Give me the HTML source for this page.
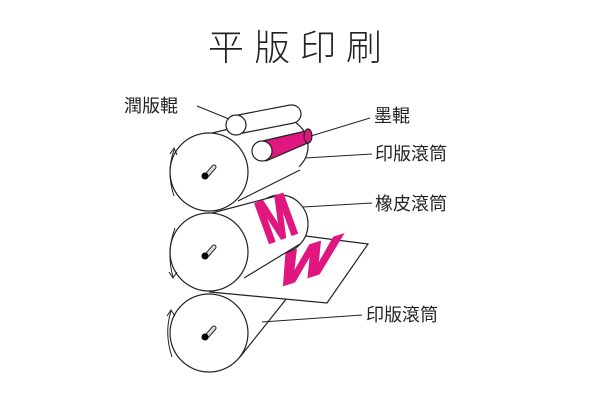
<!DOCTYPE html>
<html><head><meta charset="utf-8"><style>
body{margin:0;background:#fff}
svg{display:block}
text{font-family:"Liberation Sans","Noto Sans CJK TC",sans-serif;fill:#222}
</style></head><body>
<svg width="600" height="400" viewBox="0 0 600 400" xmlns="http://www.w3.org/2000/svg">
<rect width="600" height="400" fill="#fff"/>
<text x="300" y="60" font-size="36" text-anchor="middle" letter-spacing="10" font-family="Noto Sans CJK TC,sans-serif" font-weight="300">平版印刷</text>
<g stroke="#222" stroke-width="1.2" fill="#fff">
<!-- bottom cylinder -->
<polygon points="212,294 270,268 288,300 250,347 215,370" stroke="none"/>
<line x1="240" y1="357" x2="287" y2="298"/>
<circle cx="209" cy="333" r="39"/>
<!-- paper -->
<polygon points="210,292 327,303 368,244 290,234"/>
<g transform="translate(308,262) rotate(-18) skewX(-38) scale(1.15,0.8)">
<text x="0" y="18" font-size="54" font-weight="bold" stroke="#e0177f" stroke-width="2.5" text-anchor="middle" style="fill:#e0177f">W</text>
</g>
<!-- middle cylinder -->
<ellipse cx="280" cy="224" rx="28" ry="29"/>
<polygon points="212,213 280,195 300,244 244,278 215,290" stroke="none"/>
<line x1="212" y1="213" x2="280" y2="195"/>
<line x1="244" y1="278" x2="300" y2="244"/>
<g transform="translate(276,218) rotate(-20) scale(0.7,1)">
<text x="0" y="21" font-size="60" font-weight="bold" text-anchor="middle" style="fill:#e0177f" stroke="#e0177f" stroke-width="2.5">M</text>
</g>
<circle cx="209" cy="252" r="39"/>
<!-- top cylinder -->
<ellipse cx="278" cy="146" rx="30" ry="29"/>
<polygon points="212,133 280,117 300,170 238,201 215,210" stroke="none"/>
<line x1="212" y1="133" x2="280" y2="117"/>
<line x1="238" y1="201" x2="300" y2="170"/>
<circle cx="209" cy="172" r="39"/>
<!-- damp roller -->
<circle cx="292" cy="114" r="9"/>
<polygon points="233,116 290,105 294,123 238,134" stroke="none"/>
<line x1="233" y1="116" x2="290" y2="105"/>
<line x1="238" y1="134" x2="294" y2="123"/>
<circle cx="236" cy="125" r="10"/>
<!-- ink roller -->
<polygon points="258,142 306,131 310,142 266,161" fill="#e0177f" stroke="#222"/>
<ellipse cx="308" cy="136" rx="4" ry="7" fill="#e0177f"/>
<circle cx="262" cy="151" r="10"/>
</g>
<!-- axles -->
<g>
<line x1="207" y1="175" x2="214" y2="167" stroke="#222" stroke-width="5" stroke-linecap="round"/>
<line x1="207" y1="175" x2="214" y2="167" stroke="#ddd" stroke-width="3" stroke-linecap="round"/>
<circle cx="205" cy="176" r="3.5" fill="#000"/>
<line x1="207" y1="255" x2="214" y2="247" stroke="#222" stroke-width="5" stroke-linecap="round"/>
<line x1="207" y1="255" x2="214" y2="247" stroke="#ddd" stroke-width="3" stroke-linecap="round"/>
<circle cx="205" cy="256" r="3.5" fill="#000"/>
<line x1="207" y1="336" x2="214" y2="328" stroke="#222" stroke-width="5" stroke-linecap="round"/>
<line x1="207" y1="336" x2="214" y2="328" stroke="#ddd" stroke-width="3" stroke-linecap="round"/>
<circle cx="205" cy="337" r="3.5" fill="#000"/>
</g>
<!-- rotation arrows -->
<g stroke="#222" stroke-width="1" fill="none">
<path d="M174,196 Q166,172 174,150"/><path d="M170,154 L174,148 L177,155"/>
<path d="M175,228 Q166,252 173,277"/><path d="M169,272 L173,278 L177,272"/>
<path d="M172,357 Q164,333 171,311"/><path d="M167,316 L171,310 L175,316"/>
</g>
<!-- leaders -->
<g stroke="#222" stroke-width="1">
<line x1="197" y1="106" x2="229" y2="119"/>
<line x1="370" y1="118" x2="311" y2="136"/>
<line x1="372" y1="154" x2="305" y2="158"/>
<line x1="372" y1="203" x2="303" y2="207"/>
<line x1="362" y1="315" x2="262" y2="322"/>
</g>
<g font-size="18">
<text x="124" y="112">潤版輥</text>
<text x="374" y="122">墨輥</text>
<text x="375" y="160">印版滾筒</text>
<text x="375" y="210">橡皮滾筒</text>
<text x="366" y="321">印版滾筒</text>
</g>
</svg>
</body></html>
